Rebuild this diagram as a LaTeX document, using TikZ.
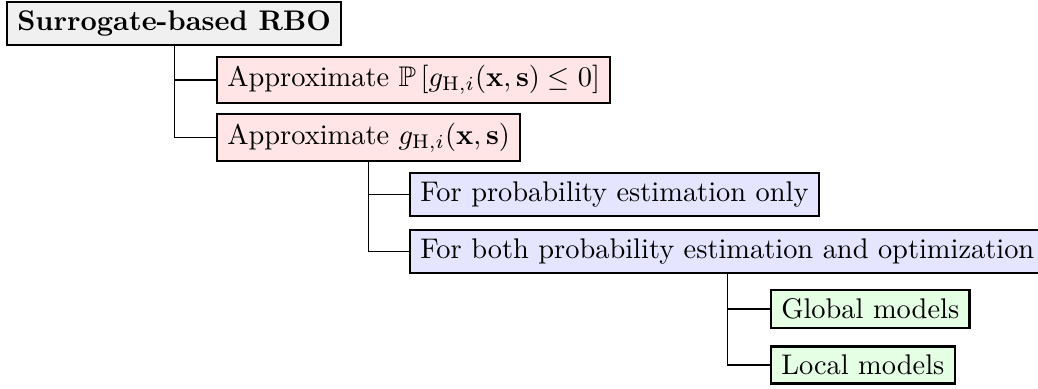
\documentclass[tikz,border=0pt]{standalone}
\usepackage{amsmath,amssymb}
\definecolor{rootfill}{HTML}{F0F0F0}
\definecolor{pinkfill}{HTML}{FFE5E5}
\definecolor{bluefill}{HTML}{E5E5FF}
\definecolor{greenfill}{HTML}{E5FFE5}
\tikzset{
  treebox/.style={draw=black, line width=0.75pt, inner xsep=3.6pt, inner ysep=3pt, anchor=west},
  rootbox/.style={treebox, fill=rootfill, font=\bfseries},
  pinkbox/.style={treebox, fill=pinkfill},
  bluebox/.style={treebox, fill=bluefill},
  greenbox/.style={treebox, fill=greenfill},
  link/.style={draw=black, line width=0.4pt},
}
\begin{document}
\begin{tikzpicture}[x=0.352pt,y=-0.352pt]
\useasboundingbox (0,0) rectangle (1038,388);
\node[rootbox] (root) at (6,23.5) {Surrogate-based RBO};
\node[pinkbox] (c1) at (216,80) {Approximate $\mathbb{P}\left[g_{\mathrm{H},i}(\mathbf{x},\mathbf{s})\le 0\right]$};
\node[pinkbox] (c2) at (216,137.5) {Approximate $g_{\mathrm{H},i}(\mathbf{x},\mathbf{s})$};
\node[bluebox] (b1) at (409,194.5) {For probability estimation only};
\node[bluebox] (b2) at (409,251.5) {For both probability estimation and optimization};
\node[greenbox] (g1) at (770,309) {Global models};
\node[greenbox] (g2) at (770,365) {Local models};
\draw[link] (root.south) |- (c1.west);
\draw[link] (root.south) |- (c2.west);
\draw[link] (c2.south) |- (b1.west);
\draw[link] (c2.south) |- (b2.west);
\draw[link] (b2.south) |- (g1.west);
\draw[link] (b2.south) |- (g2.west);
\end{tikzpicture}
\end{document}
